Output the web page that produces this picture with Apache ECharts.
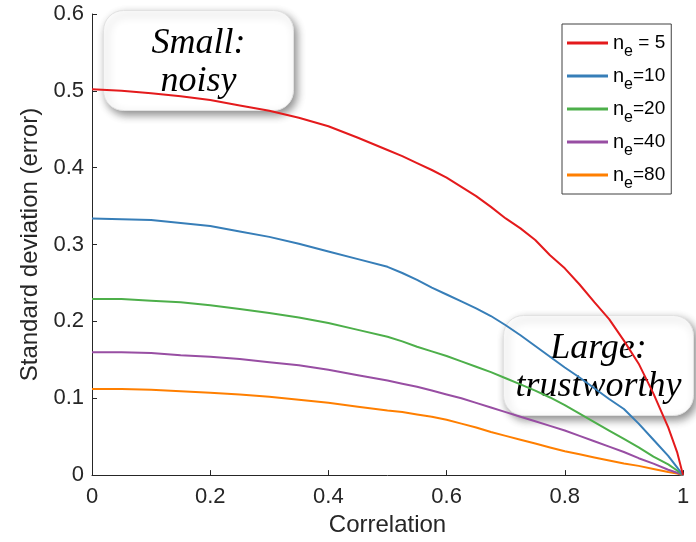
<!DOCTYPE html>
<html>
<head>
<meta charset="utf-8">
<script src="https://cdn.jsdelivr.net/npm/echarts@6/dist/echarts.min.js"></script>
<style>
  html, body { margin: 0; padding: 0; background: #fff; }
  #chart { width: 696px; height: 542px; }
</style>
</head>
<body>
<div id="chart"></div>
<script>
// Correlation between the two variables (x axis)
const correlation = [0, 0.05, 0.1, 0.15, 0.2, 0.25, 0.3, 0.35, 0.4, 0.45,
                     0.5, 0.525, 0.55, 0.575, 0.6, 0.625, 0.65, 0.675, 0.7, 0.725,
                     0.75, 0.775, 0.8, 0.825, 0.85, 0.875, 0.9, 0.925, 0.95, 0.975,
                     0.99, 1];

// Standard deviation of the correlation estimate for each ensemble size
const sdNe5  = [0.502, 0.500, 0.497, 0.493, 0.488, 0.481, 0.474, 0.465, 0.454, 0.439,
                0.423, 0.415, 0.406, 0.397, 0.387, 0.375, 0.363, 0.349, 0.334, 0.321,
                0.306, 0.286, 0.269, 0.248, 0.225, 0.203, 0.175, 0.145, 0.106, 0.062,
                0.030, 0];
const sdNe10 = [0.334, 0.333, 0.332, 0.328, 0.324, 0.317, 0.310, 0.301, 0.291, 0.281,
                0.271, 0.263, 0.254, 0.244, 0.235, 0.226, 0.217, 0.207, 0.195, 0.182,
                0.168, 0.154, 0.140, 0.127, 0.113, 0.099, 0.086, 0.067, 0.046, 0.025,
                0.010, 0];
const sdNe20 = [0.229, 0.229, 0.227, 0.225, 0.221, 0.216, 0.211, 0.205, 0.198, 0.189,
                0.180, 0.174, 0.167, 0.161, 0.155, 0.148, 0.141, 0.134, 0.126, 0.118,
                0.110, 0.101, 0.091, 0.080, 0.069, 0.058, 0.047, 0.036, 0.024, 0.014,
                0.006, 0];
const sdNe40 = [0.160, 0.160, 0.159, 0.156, 0.154, 0.151, 0.147, 0.143, 0.137, 0.130,
                0.123, 0.119, 0.115, 0.110, 0.105, 0.100, 0.094, 0.088, 0.082, 0.076,
                0.070, 0.064, 0.058, 0.051, 0.044, 0.037, 0.030, 0.022, 0.015, 0.007,
                0.003, 0];
const sdNe80 = [0.112, 0.112, 0.111, 0.109, 0.107, 0.105, 0.102, 0.098, 0.094, 0.089,
                0.084, 0.082, 0.079, 0.076, 0.072, 0.067, 0.062, 0.056, 0.051, 0.046,
                0.041, 0.036, 0.031, 0.027, 0.023, 0.019, 0.015, 0.012, 0.008, 0.004,
                0.002, 0];

const ensembleSizes = [5, 10, 20, 40, 80];
const legendSuffix = [' = 5', '=10', '=20', '=40', '=80'];
const seriesValues = [sdNe5, sdNe10, sdNe20, sdNe40, sdNe80];
const seriesColors = ['#e41a1c', '#377eb8', '#4daf4a', '#984ea3', '#ff7f00'];

const xTicks = [0, 0.2, 0.4, 0.6, 0.8, 1];
const yTicks = [0, 0.1, 0.2, 0.3, 0.4, 0.5, 0.6];

const axisColor = '#262626';
const sansFont = '"Liberation Sans", Arial, Helvetica, sans-serif';
const serifFont = '"Liberation Serif", "Times New Roman", serif';

const chart = echarts.init(document.getElementById('chart'), null, { renderer: 'canvas' });

const seriesNames = ensembleSizes.map(n => 'ne' + n);

// Rounded note box with a soft drop shadow
function callout(left, top, text) {
  return {
    type: 'group',
    left: left,
    top: top,
    z: 100,
    children: [
      {
        type: 'rect',
        shape: { x: 0, y: 0, width: 190, height: 100, r: 20 },
        style: {
          fill: '#ffffff',
          stroke: '#e2e2e2',
          lineWidth: 1,
          shadowBlur: 8,
          shadowOffsetX: 3,
          shadowOffsetY: 4,
          shadowColor: 'rgba(0,0,0,0.45)'
        }
      },
      {
        type: 'text',
        style: {
          text: text,
          x: 95,
          y: 52,
          align: 'center',
          verticalAlign: 'middle',
          font: 'italic 36px ' + serifFont,
          lineHeight: 38,
          fill: '#000000'
        }
      }
    ]
  };
}

chart.setOption({
  backgroundColor: '#ffffff',
  animation: false,
  grid: { left: 92, right: 13, top: 14, bottom: 63, containLabel: false },
  xAxis: {
    type: 'value',
    min: xTicks[0],
    max: xTicks[xTicks.length - 1],
    interval: 0.2,
    name: 'Correlation',
    nameLocation: 'middle',
    nameGap: 37,
    nameTextStyle: { fontFamily: sansFont, fontSize: 24, color: axisColor },
    axisLine: { show: true, lineStyle: { color: axisColor, width: 1 } },
    axisTick: { show: true, inside: true, length: 5, lineStyle: { color: axisColor } },
    axisLabel: {
      fontFamily: sansFont, fontSize: 22, color: axisColor, margin: 11,
      formatter: v => String(Math.round(v * 10) / 10)
    },
    splitLine: { show: false }
  },
  yAxis: {
    type: 'value',
    min: yTicks[0],
    max: yTicks[yTicks.length - 1],
    interval: 0.1,
    name: 'Standard deviation (error)',
    nameLocation: 'middle',
    nameGap: 42,
    nameTextStyle: { fontFamily: sansFont, fontSize: 24, color: axisColor },
    axisLine: { show: true, lineStyle: { color: axisColor, width: 1 } },
    axisTick: { show: true, inside: true, length: 5, lineStyle: { color: axisColor } },
    axisLabel: {
      fontFamily: sansFont, fontSize: 22, color: axisColor, margin: 8,
      formatter: v => String(Math.round(v * 10) / 10)
    },
    splitLine: { show: false }
  },
  legend: {
    orient: 'vertical',
    left: 562,
    top: 24,
    padding: [9, 6, 2, 5],
    itemGap: 6,
    itemWidth: 41,
    itemHeight: 3,
    itemTextGap: 4,
    icon: 'rect',
    borderColor: '#404040',
    borderWidth: 1,
    backgroundColor: '#ffffff',
    data: seriesNames,
    formatter: function (name) {
      const i = seriesNames.indexOf(name);
      return '{n|n}{e|e}{v|' + legendSuffix[i] + '}';
    },
    textStyle: {
      fontFamily: sansFont,
      fontSize: 19,
      color: '#000000',
      rich: {
        n: { fontFamily: sansFont, fontSize: 20, color: '#000' },
        e: { fontFamily: sansFont, fontSize: 16, color: '#000', padding: [18, 0, 0, 0] },
        v: { fontFamily: sansFont, fontSize: 19, color: '#000' }
      }
    }
  },
  series: seriesValues.map((vals, i) => ({
    name: seriesNames[i],
    type: 'line',
    data: correlation.map((c, j) => [c, vals[j]]),
    showSymbol: false,
    symbol: 'none',
    smooth: false,
    lineStyle: { color: seriesColors[i], width: 2 },
    itemStyle: { color: seriesColors[i] },
    z: 10 - i
  })),
  graphic: [
    callout(103, 10, 'Small:\nnoisy'),
    callout(503, 315, 'Large:\ntrustworthy')
  ]
});
</script>
</body>
</html>
